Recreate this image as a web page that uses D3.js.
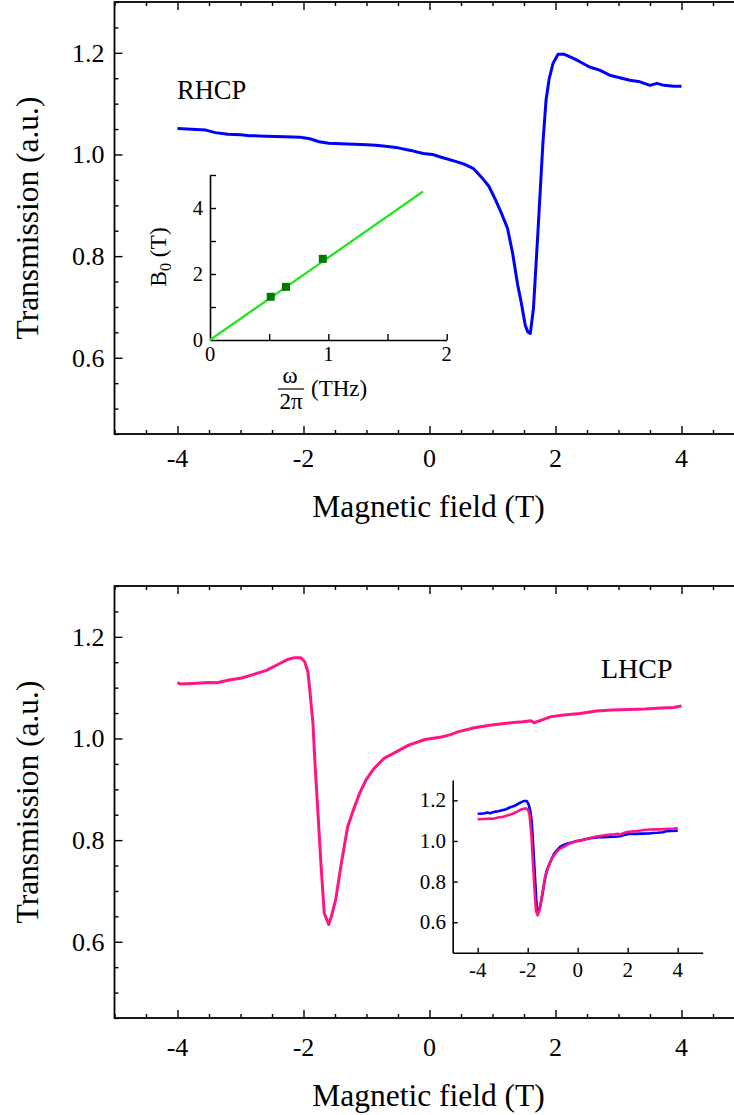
<!DOCTYPE html>
<html>
<head>
<meta charset="utf-8">
<script src="https://cdn.jsdelivr.net/npm/d3@7"></script>
<style>
  body { margin: 0; background: #fff; }
  svg { display: block; }
  svg text { font-family: "Liberation Serif", "Times New Roman", serif; }
</style>
</head>
<body>
<div id="chart"></div>
<script>
// RHCP transmission vs magnetic field (top panel)
var rhcpField = [-4.0, -3.7, -3.55, -3.4, -3.2, -3.0, -2.85, -2.6, -2.3, -2.05, -1.9, -1.75, -1.6, -1.4, -1.2, -1.0, -0.85, -0.7, -0.5, -0.3, -0.1, 0.05, 0.2, 0.4, 0.55, 0.7, 0.84, 0.94, 1.05, 1.15, 1.24, 1.32, 1.40, 1.45, 1.52, 1.56, 1.60, 1.65, 1.72, 1.80, 1.85, 1.90, 1.96, 2.04, 2.14, 2.25, 2.38, 2.54, 2.70, 2.86, 3.02, 3.18, 3.34, 3.50, 3.61, 3.72, 3.88, 4.0];
var rhcpT = [1.051, 1.049, 1.048, 1.043, 1.040, 1.039, 1.037, 1.036, 1.035, 1.034, 1.031, 1.025, 1.022, 1.021, 1.020, 1.019, 1.018, 1.016, 1.013, 1.008, 1.002, 1.000, 0.994, 0.987, 0.981, 0.972, 0.953, 0.938, 0.910, 0.882, 0.854, 0.805, 0.743, 0.713, 0.664, 0.651, 0.648, 0.697, 0.845, 1.022, 1.107, 1.149, 1.179, 1.197, 1.197, 1.191, 1.183, 1.172, 1.166, 1.156, 1.151, 1.146, 1.143, 1.136, 1.140, 1.136, 1.134, 1.134];

// LHCP transmission vs magnetic field (bottom panel)
var lhcpField = [-4.0, -3.95, -3.76, -3.5, -3.37, -3.18, -2.98, -2.79, -2.59, -2.40, -2.24, -2.14, -2.04, -1.98, -1.93, -1.90, -1.85, -1.82, -1.77, -1.72, -1.67, -1.60, -1.56, -1.49, -1.40, -1.30, -1.20, -1.11, -1.01, -0.88, -0.72, -0.52, -0.33, -0.07, 0.19, 0.32, 0.45, 0.71, 0.96, 1.22, 1.48, 1.61, 1.66, 1.80, 1.93, 2.13, 2.39, 2.65, 2.90, 3.16, 3.42, 3.68, 3.87, 4.0];
var lhcpT = [1.110, 1.107, 1.108, 1.110, 1.1095, 1.115, 1.119, 1.126, 1.134, 1.146, 1.156, 1.159, 1.159, 1.151, 1.131, 1.095, 1.030, 0.957, 0.852, 0.748, 0.656, 0.634, 0.649, 0.682, 0.754, 0.826, 0.862, 0.892, 0.918, 0.941, 0.961, 0.974, 0.987, 0.998, 1.003, 1.007, 1.013, 1.021, 1.026, 1.030, 1.033, 1.035, 1.031, 1.037, 1.043, 1.046, 1.049, 1.054, 1.056, 1.057, 1.058, 1.060, 1.061, 1.064];

// inset: resonance field vs frequency
var insetFreq = [0.513, 0.642, 0.953];
var insetB0 = [1.31, 1.61, 2.46];
var fitFreq = [0, 1.8];
var fitB0 = [0, 4.5];

// tick labels
var fieldTicks = [-4, -2, 0, 2, 4];
var transTicks = [0.6, 0.8, 1.0, 1.2];
var freqTicks = [0, 1, 2];
var b0Ticks = [0, 2, 4];

var width = 734, height = 1115;
var serif = "Liberation Serif, Times New Roman, serif";
var svg = d3.select("#chart").append("svg")
    .attr("width", width)
    .attr("height", height);

var blue = "#0000ff", pink = "#ff1485", green = "#1ee61e", darkGreen = "#007a00";

function zip(xs, ys) {
    return xs.map(function (x, i) { return [x, ys[i]]; });
}

// draws one main panel with a full frame and inward ticks
function drawPanel(top, bottom, labelShift) {
    var left = 114.5, right = 744.5;
    var x = d3.scaleLinear().domain([-5, 5]).range([left, right]);
    var y = d3.scaleLinear().domain([0.45, 1.3]).range([bottom, top]);
    var g = svg.append("g");

    var xMinor = d3.range(-5, 5.01, 0.5).filter(function (v) { return fieldTicks.indexOf(v) < 0; });
    var yMinor = d3.range(0.45, 1.31, 0.05).map(function (v) { return +v.toFixed(2); })
        .filter(function (v) { return transTicks.indexOf(v) < 0; });

    // bottom axis
    g.append("g").attr("transform", "translate(0," + bottom + ")")
        .call(d3.axisTop(x).tickValues(xMinor).tickSize(4).tickFormat(""));
    g.append("g").attr("transform", "translate(0," + bottom + ")")
        .call(d3.axisTop(x).tickValues(fieldTicks).tickSize(8).tickFormat(""));
    // top axis
    g.append("g").attr("transform", "translate(0," + top + ")")
        .call(d3.axisBottom(x).tickValues(xMinor).tickSize(4).tickFormat(""));
    g.append("g").attr("transform", "translate(0," + top + ")")
        .call(d3.axisBottom(x).tickValues(fieldTicks).tickSize(8).tickFormat(""));
    // left axis
    g.append("g").attr("transform", "translate(" + left + ",0)")
        .call(d3.axisRight(y).tickValues(yMinor).tickSize(4).tickFormat(""));
    g.append("g").attr("transform", "translate(" + left + ",0)")
        .call(d3.axisRight(y).tickValues(transTicks).tickSize(8).tickFormat(""));
    // right axis
    g.append("g").attr("transform", "translate(" + right + ",0)")
        .call(d3.axisLeft(y).tickValues(yMinor).tickSize(4).tickFormat(""));
    g.append("g").attr("transform", "translate(" + right + ",0)")
        .call(d3.axisLeft(y).tickValues(transTicks).tickSize(8).tickFormat(""));

    g.selectAll(".domain").remove();
    g.selectAll(".tick line").attr("stroke", "#000").attr("stroke-width", 1.4);

    g.append("rect")
        .attr("x", left).attr("y", top)
        .attr("width", right - left).attr("height", bottom - top)
        .attr("fill", "none").attr("stroke", "#000").attr("stroke-width", 1.8);

    // tick labels
    g.selectAll(".xlab").data(fieldTicks).enter().append("text")
        .attr("x", function (d) { return x(d); })
        .attr("y", bottom + 33 + labelShift)
        .attr("text-anchor", "middle")
        .attr("font-family", serif)
        .attr("font-size", 26)
        .text(function (d) { return d; });
    g.selectAll(".ylab").data(transTicks).enter().append("text")
        .attr("x", left - 10)
        .attr("y", function (d) { return y(d) + 9; })
        .attr("text-anchor", "end")
        .attr("font-family", serif)
        .attr("font-size", 26)
        .text(function (d) { return d.toFixed(1); });

    // axis titles
    g.append("text")
        .attr("x", (left + right) / 2 - 1)
        .attr("y", bottom + 83 + labelShift)
        .attr("text-anchor", "middle")
        .attr("font-family", serif)
        .attr("font-size", 31.5)
        .text("Magnetic field (T)");
    g.append("text")
        .attr("transform", "translate(38," + (top + bottom) / 2 + ") rotate(-90)")
        .attr("text-anchor", "middle")
        .attr("font-family", serif)
        .attr("font-size", 31.5)
        .text("Transmission (a.u.)");

    return { x: x, y: y, g: g };
}

// top panel
var p1 = drawPanel(2, 434, 0);
p1.g.append("path")
    .datum(zip(rhcpField, rhcpT))
    .attr("fill", "none").attr("stroke", blue).attr("stroke-width", 3)
    .attr("stroke-linejoin", "round")
    .attr("d", d3.line().x(function (d) { return p1.x(d[0]); }).y(function (d) { return p1.y(d[1]); }));
p1.g.append("text")
    .attr("x", 177).attr("y", 99)
    .attr("font-family", serif)
    .attr("font-size", 26.5)
    .text("RHCP");

// bottom panel
var p2 = drawPanel(586, 1018, 5);
p2.g.append("path")
    .datum(zip(lhcpField, lhcpT))
    .attr("fill", "none").attr("stroke", pink).attr("stroke-width", 3)
    .attr("stroke-linejoin", "round")
    .attr("d", d3.line().x(function (d) { return p2.x(d[0]); }).y(function (d) { return p2.y(d[1]); }));
p2.g.append("text")
    .attr("x", 601).attr("y", 678)
    .attr("font-family", serif)
    .attr("font-size", 28)
    .text("LHCP");

// inset 1: B0 vs omega/2pi
var ix = d3.scaleLinear().domain([0, 2]).range([210, 446.7]);
var iy = d3.scaleLinear().domain([0, 5]).range([340, 175]);
var inset1 = svg.append("g");
inset1.append("g").attr("transform", "translate(0,340)")
    .call(d3.axisTop(ix).tickValues([0.5, 1, 1.5, 2]).tickSize(6).tickSizeOuter(0).tickFormat(""));
inset1.append("g").attr("transform", "translate(210,0)")
    .call(d3.axisRight(iy).tickValues([1, 2, 3, 4, 5]).tickSize(6).tickSizeOuter(0).tickFormat(""));
inset1.selectAll(".domain").attr("stroke", "#000").attr("stroke-width", 1.6);
inset1.selectAll(".tick line").attr("stroke-width", 1.4);
inset1.selectAll(".ixl").data(freqTicks).enter().append("text")
    .attr("x", function (d) { return ix(d); })
    .attr("y", 361)
    .attr("text-anchor", "middle")
    .attr("font-family", serif)
    .attr("font-size", 20.5)
    .text(function (d) { return d; });
inset1.selectAll(".iyl").data(b0Ticks).enter().append("text")
    .attr("x", 203)
    .attr("y", function (d) { return iy(d) + 7; })
    .attr("text-anchor", "end")
    .attr("font-family", serif)
    .attr("font-size", 20.5)
    .text(function (d) { return d; });
inset1.append("path")
    .datum(zip(fitFreq, fitB0))
    .attr("fill", "none").attr("stroke", green).attr("stroke-width", 2.2)
    .attr("d", d3.line().x(function (d) { return ix(d[0]); }).y(function (d) { return iy(d[1]); }));
inset1.selectAll(".pt").data(zip(insetFreq, insetB0)).enter().append("rect")
    .attr("x", function (d) { return ix(d[0]) - 4; })
    .attr("y", function (d) { return iy(d[1]) - 4; })
    .attr("width", 8).attr("height", 8)
    .attr("fill", darkGreen);
// y label with subscript
var b0lab = inset1.append("text")
    .attr("transform", "translate(166,257) rotate(-90)")
    .attr("text-anchor", "middle")
    .attr("font-family", serif)
    .attr("font-size", 23.5);
b0lab.append("tspan").text("B");
b0lab.append("tspan").attr("font-size", 16).attr("dy", 5).text("0");
b0lab.append("tspan").attr("dy", -5).text(" (T)");
// x label as a fraction
inset1.append("text").attr("x", 290).attr("y", 383)
    .attr("text-anchor", "middle").attr("font-family", serif).attr("font-size", 23).text("ω");
inset1.append("line")
    .attr("x1", 278).attr("x2", 304).attr("y1", 389).attr("y2", 389)
    .attr("stroke", "#000").attr("stroke-width", 1.2);
inset1.append("text").attr("x", 291).attr("y", 409)
    .attr("text-anchor", "middle").attr("font-family", serif).attr("font-size", 23).text("2π");
inset1.append("text").attr("x", 311).attr("y", 396)
    .attr("font-family", serif).attr("font-size", 23).text("(THz)");

// inset 2: both polarisations, RHCP mirrored in field
var jx = d3.scaleLinear().domain([-5, 5]).range([452.7, 702.7]);
var jy = d3.scaleLinear().domain([0.45, 1.3]).range([952.7, 780]);
var inset2 = svg.append("g");
inset2.append("g").attr("transform", "translate(0,952.7)")
    .call(d3.axisTop(jx).tickValues(fieldTicks).tickSize(5).tickSizeOuter(0).tickFormat(""));
inset2.append("g").attr("transform", "translate(452.7,0)")
    .call(d3.axisRight(jy).tickValues(transTicks).tickSize(5).tickSizeOuter(0).tickFormat(""));
inset2.selectAll(".domain").attr("stroke", "#000").attr("stroke-width", 1.6);
inset2.selectAll(".tick line").attr("stroke-width", 1.4);
inset2.selectAll(".jxl").data(fieldTicks).enter().append("text")
    .attr("x", function (d) { return jx(d); })
    .attr("y", 977)
    .attr("text-anchor", "middle")
    .attr("font-family", serif)
    .attr("font-size", 21)
    .text(function (d) { return d; });
inset2.selectAll(".jyl").data(transTicks).enter().append("text")
    .attr("x", 446)
    .attr("y", function (d) { return jy(d) + 7; })
    .attr("text-anchor", "end")
    .attr("font-family", serif)
    .attr("font-size", 21)
    .text(function (d) { return d.toFixed(1); });
inset2.append("path")
    .datum(zip(rhcpField.map(function (b) { return -b; }), rhcpT))
    .attr("fill", "none").attr("stroke", blue).attr("stroke-width", 2.6)
    .attr("stroke-linejoin", "round")
    .attr("d", d3.line().x(function (d) { return jx(d[0]); }).y(function (d) { return jy(d[1]); }));
inset2.append("path")
    .datum(zip(lhcpField, lhcpT))
    .attr("fill", "none").attr("stroke", pink).attr("stroke-width", 2.6)
    .attr("stroke-linejoin", "round")
    .attr("d", d3.line().x(function (d) { return jx(d[0]); }).y(function (d) { return jy(d[1]); }));
</script>
</body>
</html>
